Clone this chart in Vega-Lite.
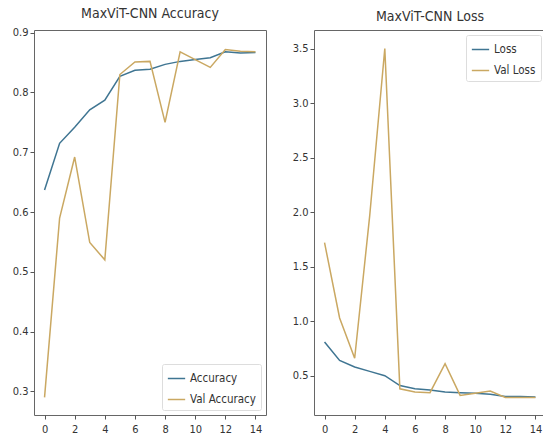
{
  "$schema": "https://vega.github.io/schema/vega-lite/v6.json",
  "padding": {"left": 11, "top": 6, "right": 0, "bottom": 0},
  "background": "white",
  "config": {
    "font": "Liberation Sans Narrow, DejaVu Sans Condensed, Liberation Sans, sans-serif",
    "view": {"stroke": "#666666", "strokeWidth": 1},
    "axis": {
      "grid": false,
      "domain": false,
      "tickColor": "#555555",
      "tickSize": 4,
      "labelColor": "#333333",
      "labelFontSize": 11,
      "title": null
    },
    "axisX": {"labelPadding": 4},
    "axisY": {"labelPadding": 2},
    "title": {"fontSize": 14, "fontWeight": "normal", "color": "#333333", "offset": 6, "frame": "group"},
    "legend": {
      "symbolType": "stroke",
      "symbolStrokeWidth": 1.5,
      "symbolSize": 300,
      "labelFontSize": 11.5,
      "labelColor": "#333333",
      "fillColor": "white",
      "strokeColor": "#dddddd",
      "padding": 5,
      "rowPadding": 6,
      "cornerRadius": 2,
      "title": null
    }
  },
  "datasets": {
    "acc": [
      {"epoch": 0, "series": "Accuracy", "value": 0.637},
      {"epoch": 1, "series": "Accuracy", "value": 0.715},
      {"epoch": 2, "series": "Accuracy", "value": 0.742},
      {"epoch": 3, "series": "Accuracy", "value": 0.771},
      {"epoch": 4, "series": "Accuracy", "value": 0.787},
      {"epoch": 5, "series": "Accuracy", "value": 0.827},
      {"epoch": 6, "series": "Accuracy", "value": 0.837},
      {"epoch": 7, "series": "Accuracy", "value": 0.839},
      {"epoch": 8, "series": "Accuracy", "value": 0.847},
      {"epoch": 9, "series": "Accuracy", "value": 0.852},
      {"epoch": 10, "series": "Accuracy", "value": 0.855},
      {"epoch": 11, "series": "Accuracy", "value": 0.858},
      {"epoch": 12, "series": "Accuracy", "value": 0.868},
      {"epoch": 13, "series": "Accuracy", "value": 0.866},
      {"epoch": 14, "series": "Accuracy", "value": 0.867},
      {"epoch": 0, "series": "Val Accuracy", "value": 0.29},
      {"epoch": 1, "series": "Val Accuracy", "value": 0.59},
      {"epoch": 2, "series": "Val Accuracy", "value": 0.692},
      {"epoch": 3, "series": "Val Accuracy", "value": 0.549},
      {"epoch": 4, "series": "Val Accuracy", "value": 0.52},
      {"epoch": 5, "series": "Val Accuracy", "value": 0.83},
      {"epoch": 6, "series": "Val Accuracy", "value": 0.851},
      {"epoch": 7, "series": "Val Accuracy", "value": 0.852},
      {"epoch": 8, "series": "Val Accuracy", "value": 0.75},
      {"epoch": 9, "series": "Val Accuracy", "value": 0.868},
      {"epoch": 10, "series": "Val Accuracy", "value": 0.855},
      {"epoch": 11, "series": "Val Accuracy", "value": 0.842},
      {"epoch": 12, "series": "Val Accuracy", "value": 0.872},
      {"epoch": 13, "series": "Val Accuracy", "value": 0.869},
      {"epoch": 14, "series": "Val Accuracy", "value": 0.868}
    ],
    "loss": [
      {"epoch": 0, "series": "Loss", "value": 0.81},
      {"epoch": 1, "series": "Loss", "value": 0.64},
      {"epoch": 2, "series": "Loss", "value": 0.58},
      {"epoch": 3, "series": "Loss", "value": 0.54},
      {"epoch": 4, "series": "Loss", "value": 0.5},
      {"epoch": 5, "series": "Loss", "value": 0.41},
      {"epoch": 6, "series": "Loss", "value": 0.38},
      {"epoch": 7, "series": "Loss", "value": 0.37},
      {"epoch": 8, "series": "Loss", "value": 0.35},
      {"epoch": 9, "series": "Loss", "value": 0.345},
      {"epoch": 10, "series": "Loss", "value": 0.34},
      {"epoch": 11, "series": "Loss", "value": 0.33},
      {"epoch": 12, "series": "Loss", "value": 0.31},
      {"epoch": 13, "series": "Loss", "value": 0.31},
      {"epoch": 14, "series": "Loss", "value": 0.305},
      {"epoch": 0, "series": "Val Loss", "value": 1.72},
      {"epoch": 1, "series": "Val Loss", "value": 1.03},
      {"epoch": 2, "series": "Val Loss", "value": 0.66},
      {"epoch": 3, "series": "Val Loss", "value": 1.97},
      {"epoch": 4, "series": "Val Loss", "value": 3.5},
      {"epoch": 5, "series": "Val Loss", "value": 0.38},
      {"epoch": 6, "series": "Val Loss", "value": 0.35},
      {"epoch": 7, "series": "Val Loss", "value": 0.345},
      {"epoch": 8, "series": "Val Loss", "value": 0.61},
      {"epoch": 9, "series": "Val Loss", "value": 0.32},
      {"epoch": 10, "series": "Val Loss", "value": 0.34},
      {"epoch": 11, "series": "Val Loss", "value": 0.36},
      {"epoch": 12, "series": "Val Loss", "value": 0.3},
      {"epoch": 13, "series": "Val Loss", "value": 0.3},
      {"epoch": 14, "series": "Val Loss", "value": 0.3}
    ]
  },
  "hconcat": [
    {
      "title": "MaxViT-CNN Accuracy",
      "width": 232,
      "height": 385,
      "data": {"name": "acc"},
      "mark": {"type": "line", "strokeWidth": 1.5, "clip": true},
      "encoding": {
        "x": {
          "field": "epoch",
          "type": "quantitative",
          "scale": {"domain": [-0.7, 14.7], "nice": false, "zero": false},
          "axis": {"values": [0, 2, 4, 6, 8, 10, 12, 14]}
        },
        "y": {
          "field": "value",
          "type": "quantitative",
          "scale": {"domain": [0.2605, 0.9045], "nice": false, "zero": false},
          "axis": {"values": [0.3, 0.4, 0.5, 0.6, 0.7, 0.8, 0.9], "format": ".1f"}
        },
        "color": {
          "field": "series",
          "type": "nominal",
          "scale": {"domain": ["Accuracy", "Val Accuracy"], "range": ["#3f7592", "#caa862"]},
          "legend": {"orient": "bottom-right", "offset": 5}
        }
      }
    },
    {
      "title": "MaxViT-CNN Loss",
      "width": 232,
      "height": 385,
      "data": {"name": "loss"},
      "mark": {"type": "line", "strokeWidth": 1.5, "clip": true},
      "encoding": {
        "x": {
          "field": "epoch",
          "type": "quantitative",
          "scale": {"domain": [-0.7, 14.7], "nice": false, "zero": false},
          "axis": {"values": [0, 2, 4, 6, 8, 10, 12, 14]}
        },
        "y": {
          "field": "value",
          "type": "quantitative",
          "scale": {"domain": [0.14, 3.67], "nice": false, "zero": false},
          "axis": {"values": [0.5, 1.0, 1.5, 2.0, 2.5, 3.0, 3.5], "format": ".1f"}
        },
        "color": {
          "field": "series",
          "type": "nominal",
          "scale": {"domain": ["Loss", "Val Loss"], "range": ["#3f7592", "#caa862"]},
          "legend": {"orient": "top-right", "offset": 5}
        }
      }
    }
  ],
  "spacing": 48,
  "bounds": "flush",
  "resolve": {"scale": {"color": "independent", "x": "independent", "y": "independent"}}
}
